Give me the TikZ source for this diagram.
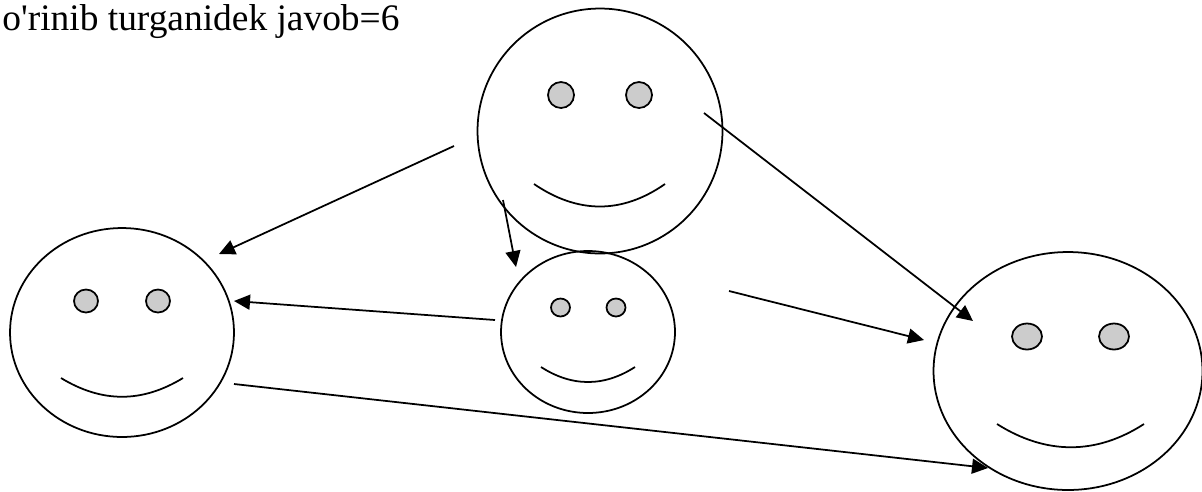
\documentclass[tikz,border=0pt]{standalone}
\usepackage{fontspec}
\setmainfont{Liberation Serif}
\usetikzlibrary{arrows.meta,shapes.geometric}

\begin{document}
\begin{tikzpicture}[
      x=0.02cm, y=-0.02cm,
      face/.style={draw, ellipse, inner sep=0pt, line width=1pt},
      eye/.style={draw, ellipse, fill=black!20, inner sep=0pt, line width=1pt},
      smile/.style={line width=1pt},
      arr/.style={-{Triangle[length=3.2mm,width=3mm]}, line width=1pt}
  ]
    \useasboundingbox (0,0) rectangle (1202,491);
    \node[anchor=base west, inner sep=0pt, font=\fontsize{21.3}{24}\selectfont] (title) at (2,30) {o\textquotesingle rinib turganidek javob=6};
    % faces
    \node[face, minimum width=4.9cm, minimum height=4.9cm] (top) at (600,131) {};
    \node[face, minimum width=4.48cm, minimum height=4.18cm] (left) at (122,332.5) {};
    \node[face, minimum width=3.48cm, minimum height=3.24cm] (mid) at (588,332) {};
    \node[face, minimum width=5.38cm, minimum height=4.76cm] (right) at (1068,371) {};
    % eyes
    \node[eye, minimum width=0.52cm, minimum height=0.52cm] (topa) at (561,95) {};
    \node[eye, minimum width=0.52cm, minimum height=0.52cm] (topb) at (639,95) {};
    \node[eye, minimum width=0.48cm, minimum height=0.46cm] (lefta) at (86,301) {};
    \node[eye, minimum width=0.48cm, minimum height=0.46cm] (leftb) at (158,301) {};
    \node[eye, minimum width=0.38cm, minimum height=0.36cm] (mida) at (560.5,307.5) {};
    \node[eye, minimum width=0.38cm, minimum height=0.36cm] (midb) at (616,307.5) {};
    \node[eye, minimum width=0.6cm, minimum height=0.52cm] (righta) at (1027,336.5) {};
    \node[eye, minimum width=0.6cm, minimum height=0.52cm] (rightb) at (1114,336.5) {};
    % mouths
    \draw[smile] (534,184) .. controls (578,214) and (622,214) .. (665,184);
    \draw[smile] (61,378) .. controls (102,403) and (142,403) .. (183,378);
    \draw[smile] (541,367) .. controls (572,387) and (604,387) .. (635,367);
    \draw[smile] (997,424) .. controls (1046,455) and (1096,455) .. (1144,424);
    % free ends of the arrows
    \coordinate (a1) at (454,146); \coordinate (b1) at (219,254);
    \coordinate (a2) at (503,200); \coordinate (b2) at (516,267);
    \coordinate (a3) at (704,113); \coordinate (b3) at (973,321);
    \coordinate (a4) at (495,320); \coordinate (b4) at (234,301);
    \coordinate (a5) at (729,291); \coordinate (b5) at (924,340);
    \coordinate (a6) at (234,384); \coordinate (b6) at (988,468);
    \foreach \i in {1,...,6} \draw[arr] (a\i)--(b\i);
  \end{tikzpicture}
\end{document}
